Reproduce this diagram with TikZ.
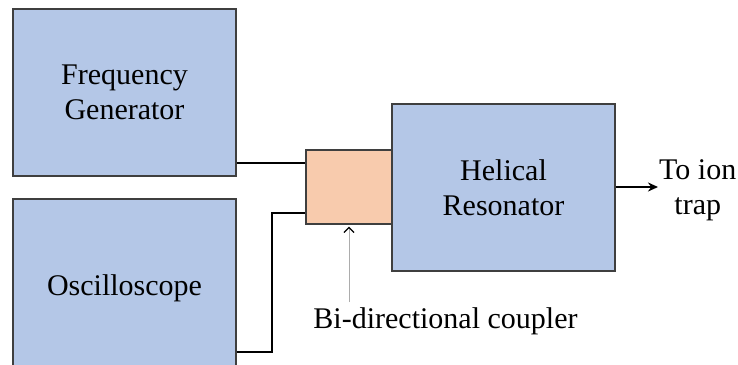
\documentclass[tikz,border=0pt]{standalone}
\usepackage{fontspec}
\setmainfont{Liberation Serif}
\usetikzlibrary{arrows.meta}
\definecolor{boxblue}{HTML}{B4C7E7}
\definecolor{boxorange}{HTML}{F8CBAD}
\definecolor{boxedge}{HTML}{3F3F3F}
\begin{document}
\begin{tikzpicture}[x=1pt,y=-1pt,
  lbl/.style={font=\fontsize{30}{35}\selectfont, align=center, inner sep=0pt},
  block/.style={lbl, draw=boxedge, line width=1.2pt, fill=boxblue, minimum width=223pt, minimum height=167pt},
  wire/.style={draw=black, line width=2pt}
]
\useasboundingbox (0,0) rectangle (738,364);
\clip (0,0) rectangle (738,364);
\fill[white] (0,0) rectangle (738,364);

\node[block] (fg) at (124.5,92.5) {Frequency\\Generator};
\node[block, minimum height=179pt] (osc) at (124.5,288.5) {Oscilloscope};
\node[block] (res) at (503.5,187.5) {Helical\\Resonator};
\node[draw=boxedge, line width=1.2pt, fill=boxorange, minimum width=86pt, minimum height=74pt, inner sep=0pt] (cpl) at (349,187) {};

\node[lbl, anchor=base] (bdc) at (445.5,328) {Bi-directional coupler};
\node[lbl, anchor=west, inner sep=1pt] (trap) at (658,190) {To ion\\trap};

\coordinate (in1) at (cpl.west |- 0,163);
\coordinate (in2) at (cpl.west |- 0,213);
\coordinate (bend) at (272,352);
\coordinate (lblend) at (cpl.south |- 0,302);

\draw[wire] (fg.east |- in1) -- (in1);
\draw[wire] (osc.east |- bend) -- (bend) |- (in2);
\draw[wire, -{Stealth[length=10pt,width=9pt]}] (res.east |- 0,187) -- (trap.west |- 0,187);
\draw[draw=gray!65, line width=1pt, -{Straight Barb[length=5pt,width=10pt,color=black,line width=1.3pt]}] (lblend) -- ([yshift=-2pt]cpl.south);
\end{tikzpicture}
\end{document}
